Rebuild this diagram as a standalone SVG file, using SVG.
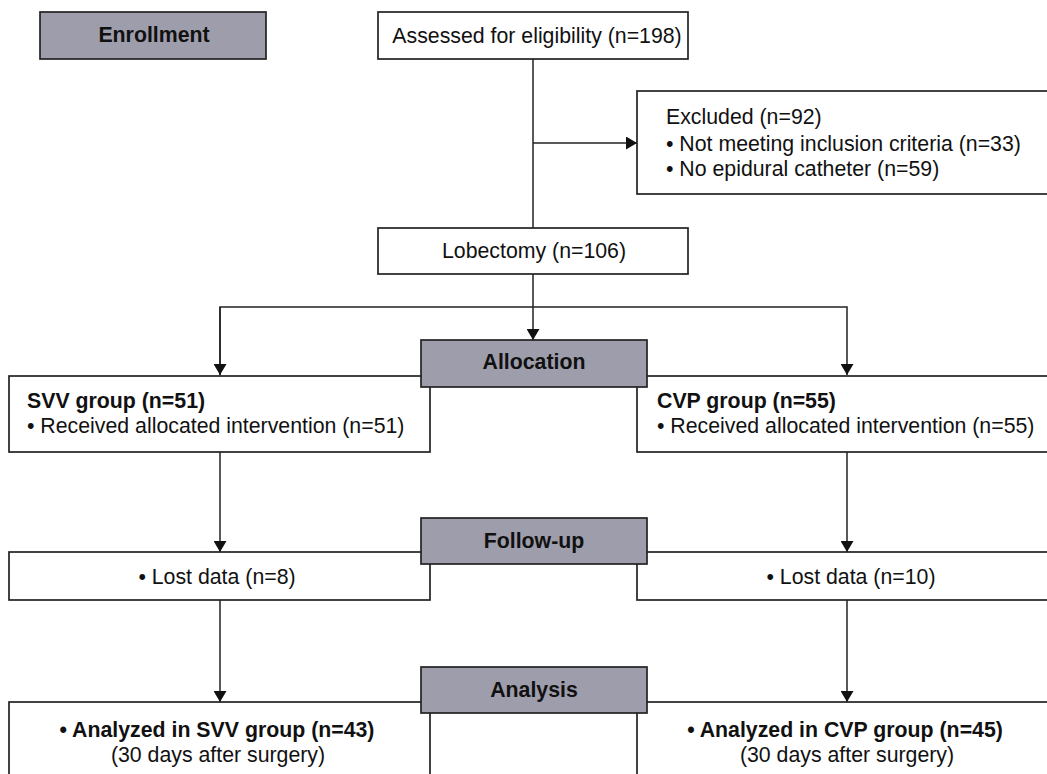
<svg xmlns="http://www.w3.org/2000/svg" width="1047" height="774" viewBox="0 0 1047 774">
<defs>
<style>
.box{fill:#ffffff;stroke:#222222;stroke-width:1.7}
.stage{fill:#9e9dab;stroke:#222222;stroke-width:1.7}
.t{font-family:"Liberation Sans",Arial,sans-serif;font-size:21.3px;fill:#111111}
.b{font-weight:bold}
.c{text-anchor:middle}
.ln{fill:none;stroke:#222222;stroke-width:1.5}
</style>
<marker id="ah" viewBox="0 0 11 13" refX="11" refY="6.5" markerWidth="11" markerHeight="13" markerUnits="userSpaceOnUse" orient="auto">
<path d="M0,0 L11,6.5 L0,13 Z" fill="#111111"/>
</marker>
</defs>
<rect width="1047" height="774" fill="#ffffff"/>

<g id="connectors">
<line class="ln" x1="533" y1="59" x2="533" y2="228"/>
<line class="ln" x1="533" y1="143" x2="637" y2="143" marker-end="url(#ah)"/>
<line class="ln" x1="533" y1="274" x2="533" y2="340" marker-end="url(#ah)"/>
<polyline class="ln" points="220,375 220,307 847,307 847,375" marker-end="url(#ah)"/>
<line class="ln" x1="220" y1="307" x2="220" y2="375" marker-end="url(#ah)"/>
<line class="ln" x1="220" y1="452" x2="220" y2="552" marker-end="url(#ah)"/>
<line class="ln" x1="847" y1="452" x2="847" y2="552" marker-end="url(#ah)"/>
<line class="ln" x1="220" y1="600" x2="220" y2="702" marker-end="url(#ah)"/>
<line class="ln" x1="847" y1="600" x2="847" y2="702" marker-end="url(#ah)"/>
</g>

<g id="enrollment">
<rect class="stage" x="40" y="12" width="226" height="47"/>
<text class="t b c" x="154" y="42">Enrollment</text>
</g>

<g id="assessed">
<rect class="box" x="378" y="12" width="310" height="47"/>
<text class="t c" x="537" y="43">Assessed for eligibility (n=198)</text>
</g>

<g id="excluded">
<rect class="box" x="637" y="91" width="430" height="103"/>
<text class="t" x="666" y="124">Excluded (n=92)</text>
<text class="t" x="666" y="151">• Not meeting inclusion criteria (n=33)</text>
<text class="t" x="666" y="176">• No epidural catheter (n=59)</text>
</g>

<g id="lobectomy">
<rect class="box" x="378" y="228" width="310" height="46"/>
<text class="t c" x="534" y="258">Lobectomy (n=106)</text>
</g>

<g id="svv">
<rect class="box" x="9" y="376" width="421" height="76"/>
<text class="t b" x="27" y="408">SVV group (n=51)</text>
<text class="t" x="27" y="433">• Received allocated intervention (n=51)</text>
</g>

<g id="cvp">
<rect class="box" x="637" y="376" width="421" height="76"/>
<text class="t b" x="657" y="408">CVP group (n=55)</text>
<text class="t" x="657" y="433">• Received allocated intervention (n=55)</text>
</g>

<g id="allocation">
<rect class="stage" x="421" y="340" width="226" height="47"/>
<text class="t b c" x="534" y="369">Allocation</text>
</g>

<g id="lost-svv">
<rect class="box" x="9" y="552" width="421" height="48"/>
<text class="t c" x="217" y="584">• Lost data (n=8)</text>
</g>

<g id="lost-cvp">
<rect class="box" x="637" y="552" width="421" height="48"/>
<text class="t c" x="851" y="584">• Lost data (n=10)</text>
</g>

<g id="followup">
<rect class="stage" x="421" y="518" width="226" height="46"/>
<text class="t b c" x="534" y="548">Follow-up</text>
</g>

<g id="analyzed-svv">
<rect class="box" x="9" y="702" width="421" height="90"/>
<text class="t b c" x="217" y="737">• Analyzed in SVV group (n=43)</text>
<text class="t c" x="218" y="762">(30 days after surgery)</text>
</g>

<g id="analyzed-cvp">
<rect class="box" x="637" y="702" width="421" height="90"/>
<text class="t b c" x="845" y="737">• Analyzed in CVP group (n=45)</text>
<text class="t c" x="847" y="762">(30 days after surgery)</text>
</g>

<g id="analysis">
<rect class="stage" x="421" y="667" width="226" height="46"/>
<text class="t b c" x="534" y="697">Analysis</text>
</g>
</svg>
